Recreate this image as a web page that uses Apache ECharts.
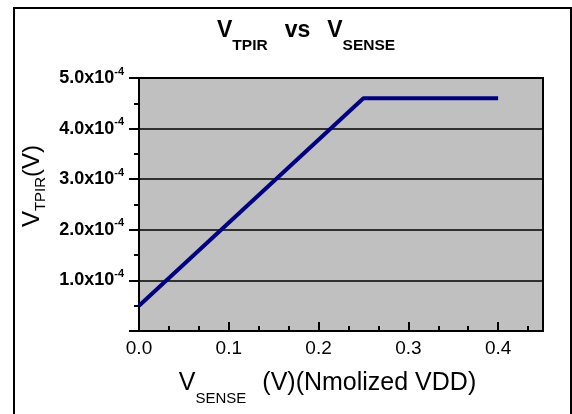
<!DOCTYPE html>
<html lang="en">
<head>
    <meta charset="UTF-8">
    <title>VTPIR vs VSENSE</title>
    <script src="https://cdn.jsdelivr.net/npm/echarts@6/dist/echarts.min.js"></script>
    <style>
        html, body { margin: 0; padding: 0; background: #fff; }
    </style>
</head>
<body>
<div id="chart" style="width: 572px;height: 414px;"></div>
<script>
    // data
    var vSense = [0, 0.25, 0.4];
    var vTpir = [0.5e-4, 4.6e-4, 4.6e-4];
    var xTickLabels = ['0.0', '0.1', '0.2', '0.3', '0.4'];
    var yTickLabels = ['1.0', '2.0', '3.0', '4.0', '5.0'];

    var FONT = '"Liberation Sans", Arial, sans-serif';
    var myChart = echarts.init(document.getElementById('chart'));

    var points = vSense.map(function (x, i) { return [x, vTpir[i]]; });

    var option = {
        animation: false,
        backgroundColor: '#fff',
        textStyle: { fontFamily: FONT },
        title: {
            left: 217,
            top: 19,
            padding: 0,
            text: '{v|V}{s|TPIR}{g|vs}{v|V}{s|SENSE}',
            textStyle: {
                rich: {
                    v: { fontFamily: FONT, fontSize: 23, fontWeight: 'bold', color: '#000', lineHeight: 23, verticalAlign: 'top' },
                    g: { fontFamily: FONT, fontSize: 23, fontWeight: 'bold', color: '#000', lineHeight: 23, verticalAlign: 'top', padding: [0, 17, 0, 17] },
                    s: { fontFamily: FONT, fontSize: 15.5, fontWeight: 'bold', color: '#000', lineHeight: 15, verticalAlign: 'top', padding: [18.5, 0, 0, 0] }
                }
            }
        },
        // frame round the whole picture
        graphic: [{
            type: 'rect',
            shape: { x: 14, y: 8, width: 557, height: 420 },
            style: { fill: 'none', stroke: '#000', lineWidth: 2 },
            z: 100
        }],
        grid: {
            left: 139, right: 29, top: 78, bottom: 83,
            containLabel: false,
            outerBoundsMode: 'none',
            show: true,
            backgroundColor: '#c0c0c0',
            borderColor: '#000',
            borderWidth: 2
        },
        xAxis: [{
            type: 'value',
            min: 0, max: 0.45, interval: 0.1,
            position: 'bottom',
            name: '{n|V}{s|SENSE}{n|(V)(Nmolized VDD)}',
            nameLocation: 'middle',
            nameGap: 40,
            nameTextStyle: {
                padding: [0, 27, 0, 0],
                rich: {
                    n: { fontFamily: FONT, fontSize: 25, color: '#000', lineHeight: 25, verticalAlign: 'top' },
                    s: { fontFamily: FONT, fontSize: 15, color: '#000', lineHeight: 15, verticalAlign: 'top', padding: [20.5, 16, 0, 0] }
                }
            },
            axisLine: { lineStyle: { color: '#000', width: 2 } },
            axisTick: { inside: true, length: 9, lineStyle: { color: '#000', width: 2 } },
            axisLabel: {
                margin: 8,
                fontFamily: FONT, fontSize: 19, color: '#000',
                formatter: function (v) {
                    var i = Math.round(v * 10);
                    return Math.abs(v - i / 10) < 1e-9 && xTickLabels[i] !== undefined ? xTickLabels[i] : '';
                }
            },
            splitLine: { show: false }
        }, {
            // minor ticks, every 1/3 of a major step
            type: 'value',
            min: 0, max: 0.45, interval: 1 / 30,
            position: 'bottom',
            axisLine: { show: false },
            axisTick: { inside: true, length: 5, lineStyle: { color: '#000', width: 2 } },
            axisLabel: { show: false },
            splitLine: { show: false }
        }],
        yAxis: {
            type: 'value',
            min: 0, max: 5e-4, interval: 1e-4,
            name: '{n|V}{s|TPIR}{n|(V)}',
            nameLocation: 'middle',
            nameGap: 91,
            nameTextStyle: {
                padding: [0, 0, 0, 37],
                rich: {
                    n: { fontFamily: FONT, fontSize: 24, color: '#000', lineHeight: 24, verticalAlign: 'top' },
                    s: { fontFamily: FONT, fontSize: 15, color: '#000', lineHeight: 15, verticalAlign: 'top', padding: [13, 0, 0, 0] }
                }
            },
            axisLine: { lineStyle: { color: '#000', width: 2 } },
            axisTick: { inside: false, length: 10, lineStyle: { color: '#000', width: 2 } },
            minorTick: { show: true, splitNumber: 2, length: 5, lineStyle: { color: '#000', width: 2 } },
            axisLabel: {
                margin: 15,
                formatter: function (v) {
                    var i = Math.round(v * 1e4) - 1;
                    if (i < 0 || yTickLabels[i] === undefined) return '';
                    return '{b|' + yTickLabels[i] + 'x10}{s|-4}';
                },
                rich: {
                    b: { fontFamily: FONT, fontSize: 18, fontWeight: 'bold', color: '#000', lineHeight: 18, verticalAlign: 'bottom' },
                    s: { fontFamily: FONT, fontSize: 11, fontWeight: 'bold', color: '#000', lineHeight: 11, verticalAlign: 'bottom', padding: [0, 0, 10, 0] }
                }
            },
            splitLine: { lineStyle: { color: '#000', width: 1.5 } }
        },
        series: [{
            type: 'line',
            xAxisIndex: 0,
            data: points,
            showSymbol: false,
            lineStyle: { color: '#000080', width: 4 },
            z: 10
        }]
    };
    myChart.setOption(option);
</script>
</body>
</html>
